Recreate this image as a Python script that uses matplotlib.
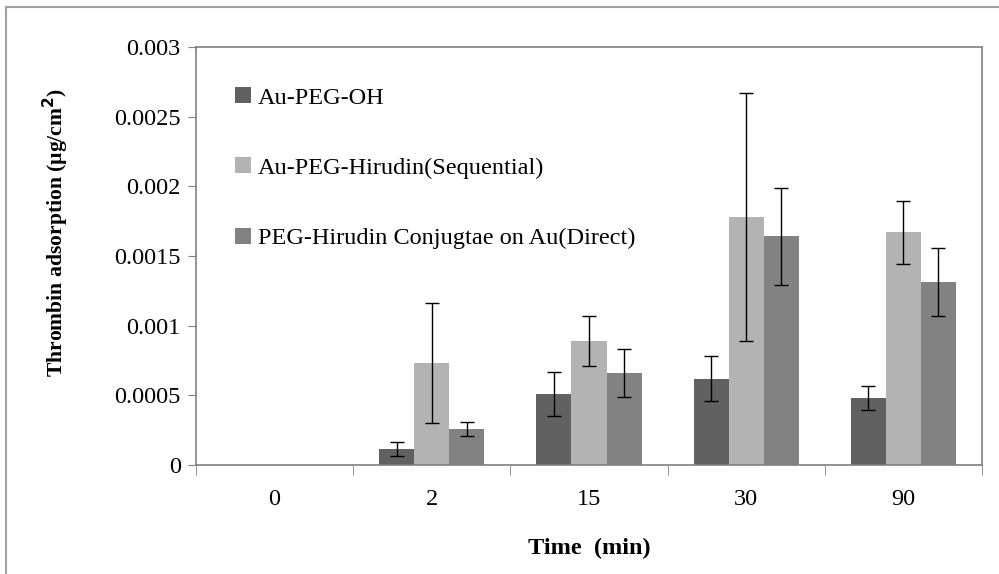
"""Thrombin adsorption on modified gold surfaces, grouped bars with error bars."""

import matplotlib

matplotlib.use("Agg")
import matplotlib.pyplot as plt
import numpy as np
from matplotlib.lines import Line2D
from matplotlib.patches import Patch

plt.rcParams["font.family"] = ["Liberation Serif", "DejaVu Serif"]

times = ["0", "2", "15", "30", "90"]
series = [
    "Au-PEG-OH",
    "Au-PEG-Hirudin(Sequential)",
    "PEG-Hirudin Conjugtae on Au(Direct)",
]
peg_oh = [0.0, 0.000115, 0.00051, 0.00062, 0.00048]
peg_oh_err = [0.0, 0.000048, 0.00016, 0.00016, 0.000088]
sequential = [0.0, 0.00073, 0.00089, 0.00178, 0.00167]
sequential_err = [0.0, 0.00043, 0.000177, 0.00089, 0.000226]
direct = [0.0, 0.000258, 0.00066, 0.00164, 0.00131]
direct_err = [0.0, 0.00005, 0.00017, 0.00035, 0.000244]

COLORS = ["#616161", "#b3b3b3", "#828282"]
SPINE = "#808080"

fig = plt.figure(figsize=(9.99, 5.74), dpi=100)
ax = fig.add_axes([196 / 999, 109 / 574, 786 / 999, 418 / 574])

x = np.arange(len(times))
width = 0.223
values = [peg_oh, sequential, direct]
errors = [peg_oh_err, sequential_err, direct_err]
for i, (vals, errs, color) in enumerate(zip(values, errors, COLORS)):
    pos = x + (i - 1) * width
    ax.bar(pos, vals, width, color=color, zorder=2)
    shown = np.array(vals) > 0
    ax.errorbar(pos[shown], np.array(vals)[shown], yerr=np.array(errs)[shown], fmt="none",
                ecolor="black", elinewidth=1, capsize=4.7, capthick=1, zorder=3)

ax.set_xlim(-0.5, len(times) - 0.5)
ax.set_ylim(0, 0.003)
ax.set_yticks([0, 0.0005, 0.001, 0.0015, 0.002, 0.0025, 0.003],
              ["0", "0.0005", "0.001", "0.0015", "0.002", "0.0025", "0.003"])
ax.set_xticks(x, times)
ax.set_xticks(np.arange(len(times) + 1) - 0.5, minor=True)
ax.tick_params(axis="x", which="major", length=0, pad=17.5, labelsize=17.5)
ax.tick_params(axis="x", which="minor", length=7, color=SPINE, direction="out")
ax.tick_params(axis="y", length=6, color=SPINE, labelsize=17.5, pad=5)
for spine in ax.spines.values():
    spine.set_color(SPINE)
    spine.set_linewidth(1.2)

ax.set_xlabel("Time  (min)", fontsize=17.5, fontweight="bold", labelpad=20)
ax.set_ylabel("Thrombin adsorption (µg/cm$^\\mathbf{2}$)", fontsize=15.6, fontweight="bold")
ax.yaxis.set_label_coords(-0.159, 0.557)

handles = [Patch(facecolor=c, edgecolor="none") for c in COLORS]
ax.legend(handles, series, loc="upper left", bbox_to_anchor=(39 / 786, 1 - 40 / 418),
          frameon=False, fontsize=17.5, borderpad=0, borderaxespad=0,
          handlelength=0.65, handleheight=0.65, handletextpad=0.3, labelspacing=2.0)

# outer chart-area border (only left and top edges fall inside the image)
fig.add_artist(Line2D([5.5 / 999, 5.5 / 999], [0, 1 - 7 / 574], color="#a0a0a0", lw=1.5))
fig.add_artist(Line2D([5.5 / 999, 1], [1 - 7 / 574, 1 - 7 / 574], color="#a0a0a0", lw=1.5))

fig.savefig("out.png", dpi=100)
